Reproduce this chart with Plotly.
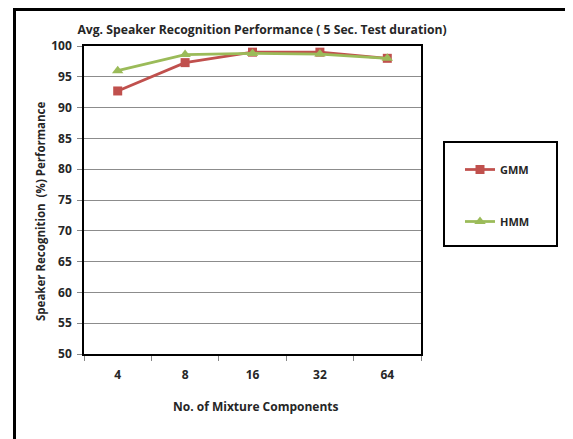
import plotly.graph_objects as go

categories = ["4", "8", "16", "32", "64"]
gmm = [92.7, 97.3, 99.0, 99.0, 98.0]
hmm = [96.0, 98.6, 98.8, 98.7, 98.0]
y_ticks = list(range(50, 101, 5))

OFF = 8  # page body margin in the browser
W, H = 573 - OFF, 439 - OFF
PL, PR, PT, PB = 84, 421, 46, 354  # plot area in screen px
ML, MR, MT, MB = PL - OFF, W - (PR - OFF), PT - OFF, H - (PB - OFF)
PW = W - ML - MR
PH = H - MT - MB

def px_x(px):
    return (px - OFF - ML) / PW

def px_y(py):
    return (H - MB - (py - OFF)) / PH

FONT = "Open Sans"
TXT = "#262626"

fig = go.Figure()
fig.add_trace(go.Scatter(
    x=categories, y=gmm, name="GMM", mode="lines+markers",
    line=dict(color="#C0504D", width=2.75),
    marker=dict(symbol="square", size=9, color="#C0504D"),
    legendgroup="g1",
))
fig.add_trace(go.Scatter(
    x=categories, y=hmm, name="HMM", mode="lines+markers",
    line=dict(color="#9BBB59", width=2.75),
    marker=dict(symbol="triangle-up", size=10, color="#9BBB59"),
    legendgroup="g2",
))

fig.update_layout(
    width=W, height=H,
    margin=dict(l=ML, r=MR, t=MT, b=MB),
    paper_bgcolor="white", plot_bgcolor="white",
    font=dict(family=FONT, color=TXT),
    title=dict(
        text="<b>Avg. Speaker Recognition Performance ( 5 Sec. Test duration)</b>",
        font=dict(family=FONT, size=12.2, color=TXT),
        x=px_x(262), xref="paper", xanchor="center",
        y=1 - (30 - OFF) / H, yref="container", yanchor="middle",
    ),
    xaxis=dict(
        type="category", range=[-0.5, 4.5],
        tickson="boundaries", ticks="outside", ticklen=5, tickcolor="#868686",
        showgrid=False, showline=True, linecolor="#000000", linewidth=1.5, mirror=True,
        tickfont=dict(family=FONT, size=12, color=TXT, weight="bold"),
        ticklabelstandoff=9,
    ),
    yaxis=dict(
        range=[50, 100], tickvals=y_ticks, ticks="outside", ticklen=5, tickcolor="#868686",
        showgrid=True, gridcolor="#8C8C8C", gridwidth=1,
        showline=True, linecolor="#000000", linewidth=1.5, mirror=True,
        tickfont=dict(family=FONT, size=12, color=TXT, weight="bold"),
        zeroline=False, ticklabelstandoff=3,
    ),
    legend=dict(
        x=px_x(460), y=px_y(155), xanchor="left", yanchor="top",
        font=dict(family=FONT, size=11, color=TXT, weight="bold"),
        tracegroupgap=33, itemwidth=30, bgcolor="rgba(0,0,0,0)",
    ),
    showlegend=True,
)

fig.add_annotation(
    text="<b>Speaker Recognition  (%) Performance</b>", textangle=-90,
    x=px_x(40), y=px_y(211), xref="paper", yref="paper",
    xanchor="center", yanchor="middle",
    showarrow=False, font=dict(family=FONT, size=11.5, color=TXT),
)
fig.add_annotation(
    text="<b>No. of Mixture Components</b>",
    x=px_x(256), y=px_y(406), xref="paper", yref="paper",
    xanchor="center", yanchor="middle",
    showarrow=False, font=dict(family=FONT, size=12, color=TXT),
)

# legend box
fig.add_shape(type="rect", xref="paper", yref="paper",
              x0=px_x(444), x1=px_x(557), y0=px_y(246), y1=px_y(142),
              line=dict(color="black", width=2))
# outer chart border (top, left, right)
fig.add_shape(type="line", xref="paper", yref="paper",
              x0=px_x(13), x1=px_x(573), y0=px_y(OFF + 1.5), y1=px_y(OFF + 1.5),
              line=dict(color="black", width=3))
fig.add_shape(type="line", xref="paper", yref="paper",
              x0=px_x(14.5), x1=px_x(14.5), y0=px_y(OFF), y1=px_y(439),
              line=dict(color="black", width=3))
fig.add_shape(type="line", xref="paper", yref="paper",
              x0=px_x(571), x1=px_x(571), y0=px_y(OFF + 3), y1=px_y(439),
              line=dict(color="#E0E0E0", width=1))

fig.write_html("out.html")
